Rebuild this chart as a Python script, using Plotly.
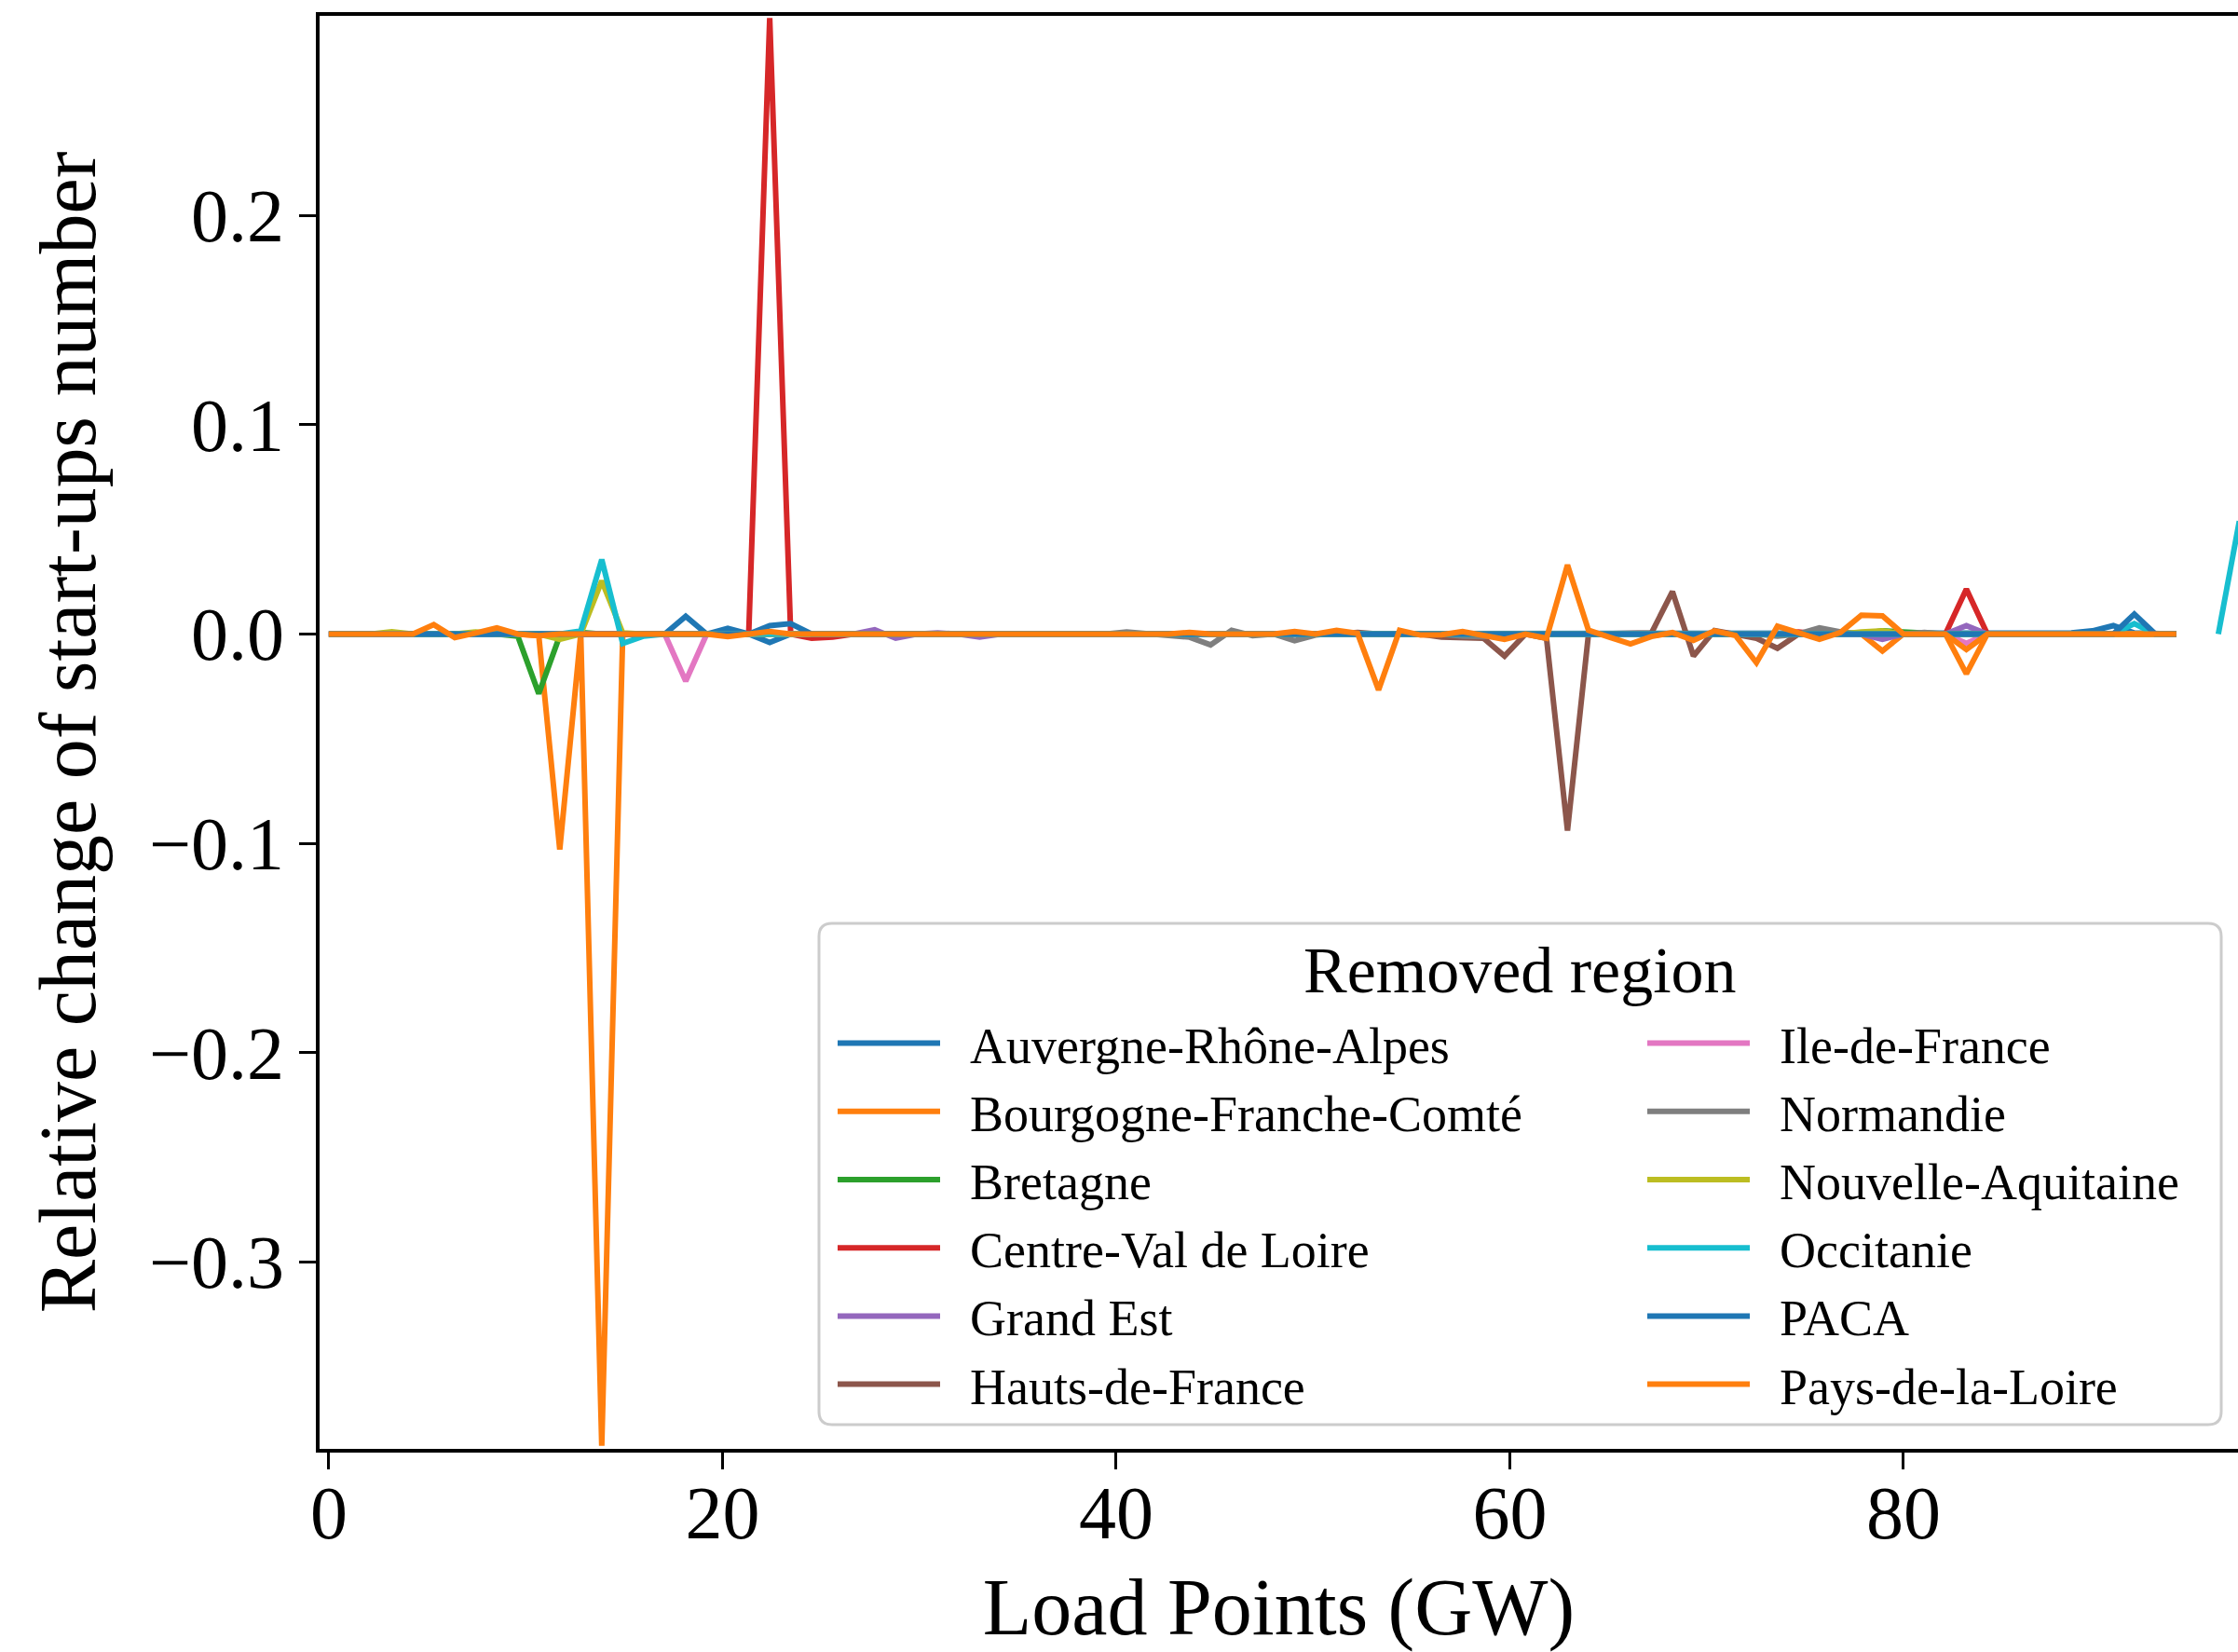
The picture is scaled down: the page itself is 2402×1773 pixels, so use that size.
import plotly.graph_objects as go

# Load points: 92 evenly spaced points of 96/90 GW
N_POINTS = 92
STEP_GW = 96 / 90
load_points = [round(i * STEP_GW, 4) for i in range(N_POINTS)]

regions = [
    "Auvergne-Rhône-Alpes", "Bourgogne-Franche-Comté", "Bretagne",
    "Centre-Val de Loire", "Grand Est", "Hauts-de-France",
    "Ile-de-France", "Normandie", "Nouvelle-Aquitaine",
    "Occitanie", "PACA", "Pays-de-la-Loire",
]

colors = [
    "#1f77b4", "#ff7f0e", "#2ca02c", "#d62728", "#9467bd", "#8c564b",
    "#e377c2", "#7f7f7f", "#bcbd22", "#17becf", "#1f77b4", "#ff7f0e",
]

# Relative change of start-up count per load point, one list per removed region
auvergne = [
    0, 0, 0, 0, 0, 0, 0, 0, 0, 0,
    0, 0, 0, 0, 0, 0, 0, 0.0085, 0, 0.0027,
    0, -0.004, 0, 0, 0, 0, 0, 0, 0, 0,
    0, 0, 0, 0, 0, 0, 0, 0, 0, 0,
    0, 0, 0, 0, 0, 0, 0, 0, 0, 0,
    0, 0, 0, 0, 0, 0, 0, 0, 0, 0,
    0, 0, 0, 0, 0, 0, 0, 0, 0, 0,
    0, 0, 0, 0, 0, 0, 0, 0, 0, 0,
    0, 0, 0, 0.0005, 0.0015, 0.004, 0.0005, 0, 0, None,
    None, None,
]
bourgogne = [
    0, 0, 0, 0, 0, 0, 0, 0, 0, 0,
    -0.0008, -0.103, 0, -0.388, 0, 0, 0, 0, 0, 0,
    0, 0, 0, 0, 0, 0, 0, 0, 0, 0,
    0, 0, 0, 0, 0, 0, 0, 0, 0, 0,
    0, 0, 0, 0, 0, 0, 0, 0, 0, 0,
    0, 0, 0, 0, 0, 0, 0, 0, 0, 0,
    0, 0, 0, 0, 0, 0, 0, 0, 0, 0,
    0, 0, 0, 0, -0.0081, 0, 0, 0, -0.019, 0,
    0, 0, 0, 0, 0, 0, 0, 0, 0, None,
    None, None,
]
bretagne = [
    0, 0, 0, 0, 0, 0, 0, 0, 0, -0.001,
    -0.0285, -0.0008, 0.0008, 0, 0, 0, 0, 0, 0, 0,
    0, 0, 0, 0, 0, 0, 0, 0, 0, 0,
    0, 0, 0, 0, 0, 0, 0, 0, 0, 0,
    0, 0, 0, 0, 0, 0, 0, 0, 0, 0,
    0, 0, 0, 0, 0, 0, 0, 0, 0, 0,
    0, 0, 0, 0, 0, 0, 0, 0, 0, 0,
    0, 0, 0, 0, 0.0015, 0.001, 0, 0, 0, 0,
    0, 0, 0, 0, 0, 0, 0, 0, 0, None,
    None, None,
]
centre = [
    0, 0, 0, 0, 0, 0, 0, 0, 0, 0,
    0, 0, 0, 0, 0, 0, 0, 0, 0, 0,
    0, 0.2945, 0, -0.002, -0.0015, 0, 0, 0, 0, 0,
    0, 0, 0, 0, 0, 0, 0, 0, 0, 0,
    0, 0, 0, 0, 0, 0, 0, 0, 0, 0,
    0, 0, 0, 0, 0, 0, 0, 0, 0, 0,
    0, 0, 0.0005, 0, 0, 0, 0, 0, 0, 0,
    0.001, 0, 0, 0, 0, 0, 0, 0, 0.0215, 0,
    0, 0, 0, 0, 0, 0, 0, 0, 0, None,
    None, None,
]
grand_est = [
    0, 0, 0, 0, 0, 0, 0, 0, 0, 0,
    0, 0, 0, 0, 0, 0, 0, 0, 0, 0,
    0, 0, 0, 0, 0, 0, 0.002, -0.002, 0, 0.0005,
    0, -0.0015, 0, 0, 0, 0, 0, 0, 0, 0,
    0, 0, 0, 0, 0, 0, 0, 0, 0, 0,
    0, 0, 0, 0, 0, 0, 0, 0, 0, 0,
    0, 0, 0, 0, 0, 0, 0, 0, 0, 0,
    0, 0, 0, 0, -0.0025, 0, 0, 0, 0.004, 0,
    0, 0, 0, 0, 0, 0, 0, 0, 0, None,
    None, None,
]
hauts = [
    0, 0, 0, 0, 0, 0, 0, 0, 0, 0,
    0, 0, 0, 0, 0, 0, 0, 0, 0, 0,
    0, 0, 0, 0, 0, 0, 0, 0, 0, 0,
    0, 0, 0, 0, 0, 0, 0, 0, 0, 0,
    0, 0, 0, 0, 0, 0, 0, 0, 0, 0.0008,
    0, 0, 0, -0.0015, -0.0015, -0.002, -0.0105, 0, -0.002, -0.094,
    0, 0, 0, 0.0005, 0.0203, -0.0105, 0.0017, 0, -0.002, -0.0068,
    0, 0, 0, 0, 0, 0, 0, 0, 0, 0,
    0, 0, 0, 0, 0, 0, 0, 0, 0, None,
    None, None,
]
ile = [
    0, 0, 0, 0, 0, 0, 0, 0, 0, 0,
    0, 0, 0, 0, 0, 0, 0, -0.0225, 0, 0,
    0, 0, 0, 0, 0, 0, 0, 0, 0, 0,
    0, 0, 0, 0, 0, 0, 0, 0, 0, 0,
    0, 0, 0, 0, 0, 0, 0, 0, 0, 0,
    0, 0, 0, 0, 0, 0, 0, 0, 0, 0,
    0, 0, 0, 0, 0, 0, 0, 0, 0, 0,
    0, 0, 0, 0, 0, 0, 0, 0, -0.0045, 0,
    0, 0, 0, 0, 0, 0, 0, 0, 0, None,
    None, None,
]
normandie = [
    0, 0, 0, 0, 0, 0, 0, 0, 0, 0,
    0, 0, 0, 0, 0, 0, 0, 0, 0, 0,
    0, 0, 0, 0, 0, 0, 0, 0, 0, 0,
    0, 0, 0, 0.0005, 0, 0.0005, 0, 0, 0.001, 0,
    -0.0005, -0.0015, -0.0052, 0.0018, -0.0008, 0, -0.0032, -0.0005, 0.0005, 0,
    0, 0, 0, 0, -0.001, -0.0012, 0, 0, 0, 0,
    0, 0, 0, 0, 0, 0, 0, 0, 0, -0.001,
    0, 0.003, 0.001, 0, 0, 0, 0.0008, 0, 0, 0,
    0, 0, 0, 0, 0, 0, 0, 0, 0, None,
    None, None,
]
nouvelle_aquitaine = [
    0, 0, 0, 0.0011, 0, 0, 0, 0.001, 0, 0,
    0, -0.0025, 0, 0.0254, 0.0005, 0, 0, 0, 0, 0,
    0, 0, 0, 0, 0, 0, 0, 0, 0, 0,
    0, 0, 0, 0, 0, 0, 0, 0, 0, 0,
    0, 0, 0, 0, 0, 0, 0, 0, 0, 0,
    0, 0, 0, 0, 0, 0, 0, 0, 0, 0,
    0, 0, 0, 0, 0, 0, 0, 0, 0, 0,
    0, 0, 0, 0.001, 0.0015, 0, 0, 0, 0, 0,
    0, 0, 0, 0, 0, 0, 0, 0.0005, 0, None,
    None, None,
]
occitanie = [
    0, 0, 0, 0, 0, 0, 0, 0, 0, 0,
    0, 0, 0.0015, 0.0356, -0.0045, -0.001, 0, 0, 0, 0,
    0, 0, 0, 0, 0, 0, 0, 0, 0, 0,
    0, 0, 0, 0, 0, 0, 0, 0, 0, 0,
    0, 0, 0, 0, 0, 0, 0, 0, 0, 0,
    0, 0, 0, 0, 0, 0, 0, 0, 0, 0,
    0, 0, 0, 0, 0, 0, 0, 0, 0, 0,
    0, 0, 0, 0, 0, 0, 0, 0, 0, 0,
    0, 0, 0, 0, 0, 0, 0.005, 0, 0, None,
    0, 0.054,
]
paca = [
    0, 0, 0, 0, 0, 0, 0, 0, 0, 0,
    0, 0, 0, 0, 0, 0, 0, 0, 0, 0,
    0, 0.004, 0.005, 0, 0, 0, 0, 0, 0, 0,
    0, 0, 0, 0, 0, 0, 0, 0, 0, 0,
    0, 0, 0, 0, 0, 0, 0, 0, 0, 0,
    0, 0, 0, 0, 0, 0, 0, 0, 0, 0,
    0, 0, 0, 0, 0, 0, 0, 0, 0, 0,
    0, 0, 0, 0, 0, 0, 0, 0, 0, 0,
    0, 0, 0, 0, 0, 0, 0.0095, 0, 0, None,
    None, None,
]
pays_de_la_loire = [
    0, 0, 0, 0, 0, 0.0045, -0.0017, 0.0005, 0.003, 0,
    -0.0008, 0, 0, 0, 0, 0, 0, 0, 0, -0.0012,
    0, 0.0012, 0, 0, 0, 0, 0, 0, 0, 0,
    0, 0, 0, 0, 0, 0, 0, 0, 0, 0,
    0, 0.0008, 0, 0, 0, 0, 0.0012, 0, 0.0018, 0.0003,
    -0.0267, 0.0018, -0.0005, -0.0003, 0.0012, -0.0005, -0.0025, 0, -0.002, 0.033,
    0.0018, -0.0015, -0.0047, -0.0012, 0.0007, -0.003, 0.0015, -0.0007, -0.0137, 0.0037,
    0.0006, -0.0025, 0.0007, 0.009, 0.0087, 0, 0, 0, -0.0074, 0,
    0, 0, 0, 0, 0, 0, 0, 0, 0, None,
    None, None,
]

series = [
    auvergne, bourgogne, bretagne, centre, grand_est, hauts,
    ile, normandie, nouvelle_aquitaine, occitanie, paca, pays_de_la_loire,
]

FONT = "Liberation Serif"

# Figure geometry (px)
W, H = 2402, 1773
ML, MR, MT, MB = 343, 0, 17, 218
PW, PH = W - ML - MR, H - MT - MB


def px_x(x):
    return (x - ML) / PW


def px_y(y):
    return (H - MB - y) / PH


# non-breaking spaces keep a gap between legend sample line and label
PAD = "\u00a0\u00a0"

fig = go.Figure()
for k, (name, vals, col) in enumerate(zip(regions, series, colors)):
    fig.add_trace(go.Scatter(
        x=load_points, y=vals, mode="lines", name=PAD + name,
        line=dict(color=col, width=6),
        connectgaps=False,
        legend="legend" if k < 6 else "legend2",
    ))

# Legend frame with rounded corners
x0, x1 = px_x(879), px_x(2384)
y0, y1 = px_y(1529), px_y(991)
rx, ry = 14 / PW, 14 / PH
frame = (
    f"M{x0 + rx},{y0} L{x1 - rx},{y0} Q{x1},{y0} {x1},{y0 + ry} "
    f"L{x1},{y1 - ry} Q{x1},{y1} {x1 - rx},{y1} "
    f"L{x0 + rx},{y1} Q{x0},{y1} {x0},{y1 - ry} "
    f"L{x0},{y0 + ry} Q{x0},{y0} {x0 + rx},{y0} Z"
)
fig.add_shape(type="path", path=frame, xref="paper", yref="paper",
              line=dict(color="#cccccc", width=3), fillcolor="white",
              layer="above")

fig.add_annotation(text="Removed region", x=px_x(1631), y=px_y(1041),
                   xref="paper", yref="paper", showarrow=False,
                   xanchor="center", yanchor="middle",
                   font=dict(family=FONT, size=70, color="black"))

legend_style = dict(
    bgcolor="rgba(0,0,0,0)", borderwidth=0,
    font=dict(family=FONT, size=54, color="black"),
    itemwidth=110, xanchor="left", yanchor="top",
    orientation="v", tracegroupgap=0,
)

ytick_vals = [-0.3, -0.2, -0.1, 0.0, 0.1, 0.2]
ytick_text = ["\u22120.3", "\u22120.2", "\u22120.1", "0.0", "0.1", "0.2"]
xtick_vals = [0, 20, 40, 60, 80]

fig.update_layout(
    width=W, height=H,
    margin=dict(l=ML, r=MR, t=MT, b=MB, autoexpand=False),
    paper_bgcolor="white", plot_bgcolor="white",
    font=dict(family=FONT, color="black"),
    showlegend=True,
    legend=dict(x=px_x(894), y=px_y(1078), **legend_style),
    legend2=dict(x=px_x(1763), y=px_y(1078), **legend_style),
    xaxis=dict(
        range=[-0.47, 97.0], tickvals=xtick_vals,
        ticks="outside", ticklen=18, tickwidth=3, tickcolor="black",
        ticklabelstandoff=-22,
        showline=True, linewidth=4, linecolor="black", mirror=True,
        showgrid=False, zeroline=False,
        tickfont=dict(family=FONT, size=80, color="black"),
        title=dict(text="Load Points (GW)", standoff=30,
                   font=dict(family=FONT, size=86, color="black")),
    ),
    yaxis=dict(
        range=[-0.3895, 0.2955], tickvals=ytick_vals, ticktext=ytick_text,
        ticks="outside", ticklen=18, tickwidth=3, tickcolor="black",
        showline=True, linewidth=4, linecolor="black",
        showgrid=False, zeroline=False,
        tickfont=dict(family=FONT, size=80, color="black"),
        title=dict(text="Relative change of start-ups number", standoff=30,
                   font=dict(family=FONT, size=86, color="black")),
    ),
)

fig.write_html("out.html")
